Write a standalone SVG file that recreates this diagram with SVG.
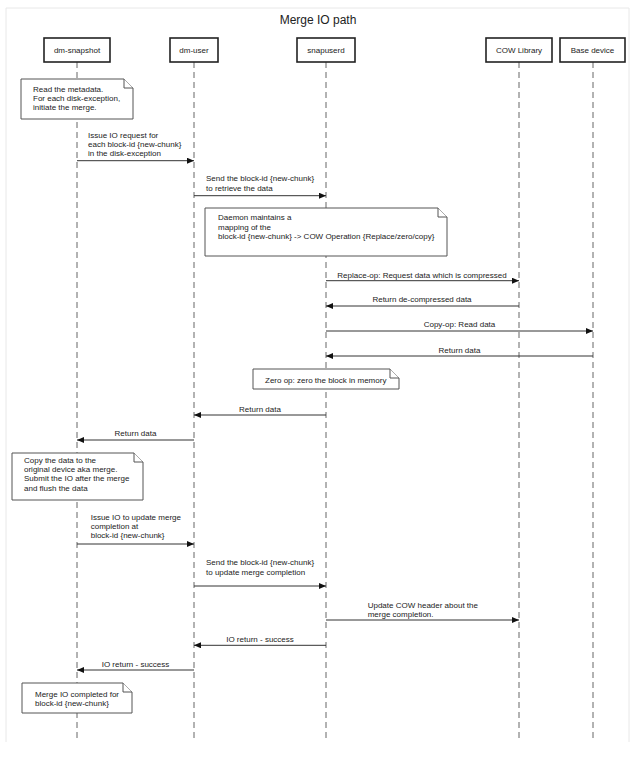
<svg xmlns="http://www.w3.org/2000/svg" width="642" height="779" viewBox="0 0 642 779">
<style>
text { font-family: "Liberation Sans", Arial, sans-serif; font-size: 8px; fill: #222; }
.title { font-size: 12px; text-anchor: middle; }
.actor rect { fill: #fff; stroke: #222; stroke-width: 1.6; }
.actor text { text-anchor: middle; }
.life { stroke: #666; stroke-width: 1; stroke-dasharray: 6 4; fill: none; }
.msg { stroke: #333; stroke-width: 1; fill: none; marker-end: url(#ah); }
.note path { fill: #fff; stroke: #555; stroke-width: 1; }
.c { text-anchor: middle; }
</style>
<defs>
<marker id="ah" markerWidth="7" markerHeight="6" refX="7" refY="3" orient="auto" markerUnits="userSpaceOnUse">
<path d="M0,0 L7,3 L0,6 Z" fill="#111"/>
</marker>
</defs>
<rect x="0" y="0" width="642" height="779" fill="#fff"/>
<path d="M6,742 V8 H629 V742" fill="none" stroke="#e8e8e8" stroke-width="1"/>
<text class="title" x="318" y="24">Merge IO path</text>

<g id="lifelines">
<line class="life" x1="77" y1="62" x2="77" y2="742"/>
<line class="life" x1="194" y1="62" x2="194" y2="742"/>
<line class="life" x1="326" y1="62" x2="326" y2="742"/>
<line class="life" x1="519" y1="62" x2="519" y2="742"/>
<line class="life" x1="593" y1="62" x2="593" y2="742"/>
</g>

<g id="dm-snapshot" class="actor"><rect x="44" y="38" width="66" height="24"/><text x="77" y="53">dm-snapshot</text></g>
<g id="dm-user" class="actor"><rect x="170" y="38" width="48" height="24"/><text x="194" y="53">dm-user</text></g>
<g id="snapuserd" class="actor"><rect x="297" y="38" width="58" height="24"/><text x="326" y="53">snapuserd</text></g>
<g id="cow-library" class="actor"><rect x="486" y="38" width="66" height="24"/><text x="519" y="53">COW Library</text></g>
<g id="base-device" class="actor"><rect x="560" y="38" width="65" height="24"/><text x="592.5" y="53">Base device</text></g>

<g id="note-read-metadata" class="note">
<path d="M21,79 H124 L133,88 V119 H21 Z"/><path d="M124,79 V88 H133"/>
<text x="33" y="91.6">Read the metadata.</text>
<text x="33" y="101">For each disk-exception,</text>
<text x="33" y="110.4">initiate the merge.</text>
</g>

<g id="note-daemon" class="note">
<path d="M205,208 H438 L447,217 V256 H205 Z"/><path d="M438,208 V217 H447"/>
<text x="218" y="220.3">Daemon maintains a</text>
<text x="218" y="229.7">mapping of the</text>
<text x="218" y="239.1">block-id {new-chunk} -&gt; COW Operation {Replace/zero/copy}</text>
</g>

<g id="note-zero-op" class="note">
<path d="M253,369 H390 L399,378 V389 H253 Z"/><path d="M390,369 V378 H399"/>
<text x="265" y="383">Zero op: zero the block in memory</text>
</g>

<g id="note-copy-data" class="note">
<path d="M12,453 H134 L143,462 V500 H12 Z"/><path d="M134,453 V462 H143"/>
<text x="24" y="462.6">Copy the data to the</text>
<text x="24" y="472">original device aka merge.</text>
<text x="24" y="481.4">Submit the IO after the merge</text>
<text x="24" y="490.8">and flush the data</text>
</g>

<g id="note-merge-completed" class="note">
<path d="M22,683 H123 L132,692 V713 H22 Z"/><path d="M123,683 V692 H132"/>
<text x="35" y="696.6">Merge IO completed for</text>
<text x="35" y="706">block-id {new-chunk}</text>
</g>

<g id="connectors">
<line class="msg" x1="77" y1="160.7" x2="194" y2="160.7"/>
<text x="88" y="137.6">Issue IO request for</text>
<text x="88" y="147">each block-id {new-chunk}</text>
<text x="88" y="156.4">in the disk-exception</text>

<line class="msg" x1="194" y1="195.7" x2="326" y2="195.7"/>
<text x="206" y="181.2">Send the block-id {new-chunk}</text>
<text x="206" y="190.6">to retrieve the data</text>

<line class="msg" x1="326" y1="280.7" x2="519" y2="280.7"/>
<text class="c" x="422" y="278">Replace-op: Request data which is compressed</text>

<line class="msg" x1="519" y1="306" x2="326" y2="306"/>
<text class="c" x="422" y="302.3">Return de-compressed data</text>

<line class="msg" x1="326" y1="331" x2="593" y2="331"/>
<text class="c" x="459.5" y="327.3">Copy-op: Read data</text>

<line class="msg" x1="593" y1="356" x2="326" y2="356"/>
<text class="c" x="459.5" y="353">Return data</text>

<line class="msg" x1="326" y1="415" x2="194" y2="415"/>
<text class="c" x="260" y="411.7">Return data</text>

<line class="msg" x1="194" y1="440" x2="77" y2="440"/>
<text class="c" x="135.5" y="436.3">Return data</text>

<line class="msg" x1="77" y1="544" x2="194" y2="544"/>
<text x="90.7" y="519.6">Issue IO to update merge</text>
<text x="90.7" y="529">completion at</text>
<text x="90.7" y="538.4">block-id {new-chunk}</text>

<line class="msg" x1="194" y1="586" x2="326" y2="586"/>
<text x="206" y="565.2">Send the block-id {new-chunk}</text>
<text x="206" y="574.6">to update merge completion</text>

<line class="msg" x1="326" y1="620" x2="519" y2="620"/>
<text x="367.7" y="607.8">Update COW header about the</text>
<text x="367.7" y="617.2">merge completion.</text>

<line class="msg" x1="326" y1="645.3" x2="194" y2="645.3"/>
<text class="c" x="260" y="641.7">IO return - success</text>

<line class="msg" x1="194" y1="670" x2="77" y2="670"/>
<text class="c" x="135.5" y="667">IO return - success</text>
</g>
</svg>
